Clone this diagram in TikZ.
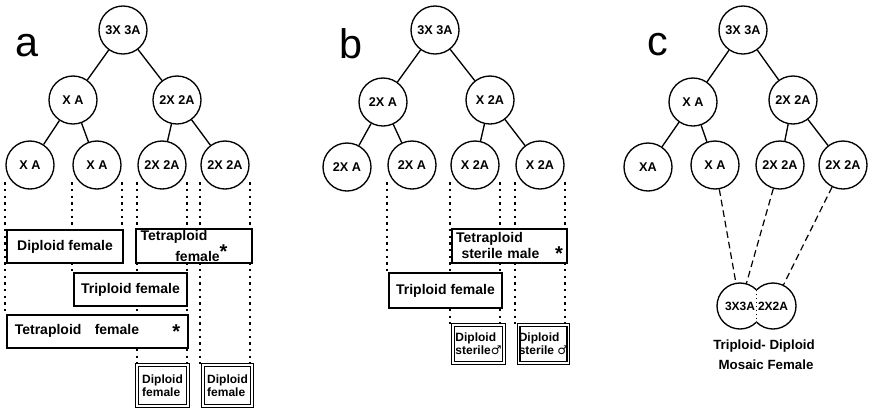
\documentclass[tikz,border=0pt]{standalone}
\usepackage{fontspec}
\setmainfont{Liberation Sans}
\newfontfamily\symfont{DejaVu Sans}
\usetikzlibrary{backgrounds}

\begin{document}
\begin{tikzpicture}[x=0.75pt,y=-0.75pt,
  cell/.style={circle,draw,line width=1pt,minimum size=36pt,inner sep=0pt,
               font=\fontsize{9.5}{10}\selectfont\bfseries},
  half/.style={circle,minimum size=34.5pt,inner sep=0pt,
               font=\fontsize{9}{10}\selectfont\bfseries},
  sexbox/.style={draw,fill=white,line width=1pt,inner sep=0pt,align=left,
                 font=\fontsize{10.5}{11}\selectfont\bfseries},
  smallbox/.style={draw,fill=white,line width=1pt,double,double distance=1pt,
                   inner sep=0pt,align=left,font=\fontsize{9}{10}\selectfont\bfseries},
  guide/.style={line width=1.4pt,dash pattern=on 1.8pt off 3.2pt,shorten <=13pt},
  link/.style={line width=1pt},
  cross/.style={line width=0.9pt,dash pattern=on 5pt off 3pt},
  panel/.style={font=\fontsize{31}{31}\selectfont}]
\useasboundingbox (0,0) rectangle (870,408);
\def\star{{\fontsize{15}{15}\selectfont *}}

% a
\node[panel] (la) at (27,46) {a};
\node[cell] (a0) at (123,30) {3X 3A};
\node[cell] (a1) at (73,100) {X A};
\node[cell] (a2) at (177,100) {2X 2A};
\node[cell] (a3) at (30,165) {X A};
\node[cell] (a4) at (97,165) {X A};
\node[cell] (a5) at (162,165) {2X 2A};
\node[cell] (a6) at (225,165) {2X 2A};
\draw[link] (a0) -- (a1);
\draw[link] (a0) -- (a2);
\draw[link] (a1) -- (a3);
\draw[link] (a1) -- (a4);
\draw[link] (a2) -- (a5);
\draw[link] (a2) -- (a6);

\node[sexbox,minimum width=87pt,minimum height=24.75pt] (aDip) at (65,246.5) {Diploid female};
\node[sexbox,minimum width=87pt,minimum height=25.5pt,text width=80pt] (aTet1) at (194,246)
     {Tetraploid\\\hspace*{26pt}female\raisebox{2pt}{\star}};
\node[sexbox,minimum width=84.75pt,minimum height=24.75pt] (aTri) at (130.5,289.5) {Triploid female};
\node[sexbox,minimum width=135.75pt,minimum height=24.75pt,text width=124pt] (aTet2) at (97.5,331.5)
     {Tetraploid\hspace{10pt}female\hfill\raisebox{-3pt}{\star}\hspace*{14pt}};
\node[smallbox,minimum width=38.25pt,minimum height=30.75pt] (aDf1) at (162.5,385.5) {Diploid\\female};
\node[smallbox,minimum width=36.75pt,minimum height=30.75pt] (aDf2) at (227.5,385.5) {Diploid\\female};

\begin{pgfonlayer}{background}
\draw[guide] (a3.west) -- (a3.west |- aTet2.north);
\draw[guide] (a4.west) -- (a4.west |- aTri.north);
\draw[guide] (a4.east) -- (a4.east |- aDip.north);
\draw[guide] (a5.west) -- (a5.west |- aDf1.north);
\draw[guide] (a5.east) -- (a5.east |- aDf1.north);
\draw[guide] (a6.west) -- (a6.west |- aDf2.north);
\draw[guide] (a6.east) -- (a6.east |- aDf2.north);
\end{pgfonlayer}

% b
\node[panel] (lb) at (351,44) {b};
\node[cell] (b0) at (435,30) {3X 3A};
\node[cell] (b1) at (383,102) {2X A};
\node[cell] (b2) at (490,100) {X 2A};
\node[cell] (b3) at (347,167) {2X A};
\node[cell] (b4) at (412,165) {2X A};
\node[cell] (b5) at (475,165) {X 2A};
\node[cell] (b6) at (540,165) {X 2A};
\draw[link] (b0) -- (b1);
\draw[link] (b0) -- (b2);
\draw[link] (b1) -- (b3);
\draw[link] (b1) -- (b4);
\draw[link] (b2) -- (b5);
\draw[link] (b2) -- (b6);

\node[sexbox,minimum width=86.25pt,minimum height=25.5pt,text width=80pt] (bTet) at (509.5,246)
     {Tetraploid\\\hspace*{4pt}sterile male\hfill\raisebox{-1pt}{\star}\hspace*{2pt}};
\node[sexbox,minimum width=84.75pt,minimum height=26.25pt] (bTri) at (445.5,290.5) {Triploid female};
\node[smallbox,minimum width=38.25pt,minimum height=28.5pt] (bDs1) at (478.5,344) {Diploid\\sterile{\symfont ♂}};
\node[smallbox,minimum width=36.75pt,minimum height=28.5pt] (bDs2) at (543.5,344) {Diploid\\sterile {\symfont ♂}};

\begin{pgfonlayer}{background}
\draw[guide] (b4.west) -- (b4.west |- bTri.north);
\draw[guide] (b5.west) -- (b5.west |- bDs1.north);
\draw[guide] (b5.east) -- (b5.east |- bDs1.north);
\draw[guide] (b6.west) -- (b6.west |- bDs2.north);
\draw[guide] (b6.east) -- (b6.east |- bDs2.north);
\end{pgfonlayer}

% c
\node[panel] (lc) at (658,45) {c};
\node[cell] (c0) at (743,30) {3X 3A};
\node[cell] (c1) at (693,102) {X A};
\node[cell] (c2) at (793,100) {2X 2A};
\node[cell] (c3) at (648,167) {XA};
\node[cell] (c4) at (715,165) {X A};
\node[cell] (c5) at (780,165) {2X 2A};
\node[cell] (c6) at (843,165) {2X 2A};
\draw[link] (c0) -- (c1);
\draw[link] (c0) -- (c2);
\draw[link] (c1) -- (c3);
\draw[link] (c1) -- (c4);
\draw[link] (c2) -- (c5);
\draw[link] (c2) -- (c6);

\node[half] (mL) at (740,306) {3X3A};
\node[half] (mR) at (773,306) {2X2A};
\begin{scope}
\clip (700,270) rectangle (756.5,345);
\draw[link] (mL.center) circle[radius=23];
\end{scope}
\begin{scope}
\clip (756.5,270) rectangle (810,345);
\draw[link] (mR.center) circle[radius=23];
\end{scope}
\draw[line width=0.8pt,dash pattern=on 1pt off 2pt] (756.5,290) -- (756.5,322);
\node[align=left,font=\fontsize{10}{15}\selectfont\bfseries] (mLab) at (764,355)
     {Triploid- Diploid\\\hspace*{4pt}Mosaic Female};
\draw[cross] (c4) -- (mL);
\draw[cross] (c5) -- (mL);
\draw[cross] (c6) -- (mR);

\end{tikzpicture}
\end{document}
